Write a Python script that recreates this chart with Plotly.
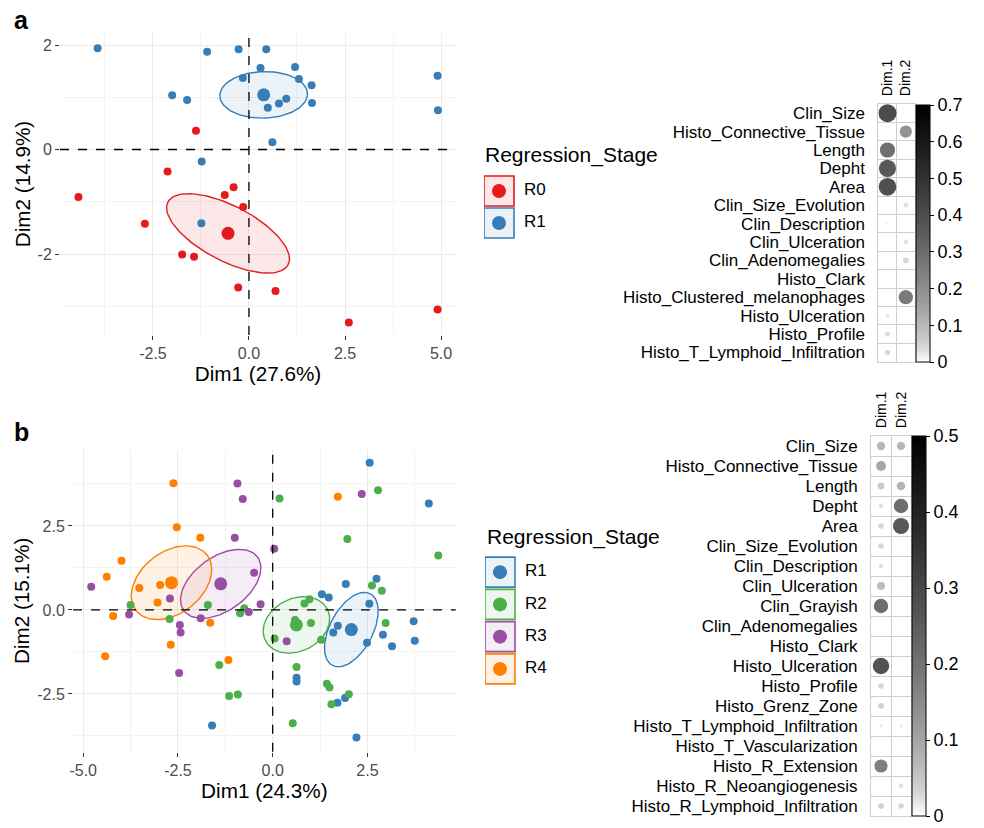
import numpy as np
import plotly.graph_objects as go

W, H = 984, 828
FONT = "Liberation Sans, Arial, sans-serif"

# ---------------- Panel a data ----------------
A_STAGES = ["R0", "R1"]
A_COLORS = ["#E41A1C", "#377EB8"]
A_R0_X = [-1.38, -2.12, -0.40, -0.63, -4.44, -0.15, -2.71, -1.74, -1.43, -0.28, 0.69, 2.60, 4.91]
A_R0_Y = [0.36, -0.42, -0.72, -0.87, -0.91, -1.10, -1.42, -2.01, -2.05, -2.64, -2.71, -3.31, -3.06]
A_R1_X = [-3.94, -1.09, -0.27, 0.45, 0.30, 1.20, -0.16, 1.30, 1.63, 0.97, 0.78, 0.49, 1.64,
          -2.00, -1.61, 4.91, 4.92, 0.61, -1.23, -1.24]
A_R1_Y = [1.94, 1.87, 1.92, 1.92, 1.56, 1.58, 1.37, 1.35, 1.23, 0.97, 0.88, 0.80, 0.89,
          1.04, 0.95, 1.41, 0.75, 0.14, -0.23, -1.41]
A_XTICKS = [-2.5, 0.0, 2.5, 5.0]
A_XTICKTEXT = ["-2.5", "0.0", "2.5", "5.0"]
A_YTICKS = [-2, 0, 2]
A_YTICKTEXT = ["-2", "0", "2"]
A_XTITLE = "Dim1 (27.6%)"
A_YTITLE = "Dim2 (14.9%)"

A_VARS = ["Clin_Size", "Histo_Connective_Tissue", "Length", "Depht", "Area",
          "Clin_Size_Evolution", "Clin_Description", "Clin_Ulceration",
          "Clin_Adenomegalies", "Histo_Clark", "Histo_Clustered_melanophages",
          "Histo_Ulceration", "Histo_Profile", "Histo_T_Lymphoid_Infiltration"]
A_DIM1 = [0.70, 0.0, 0.50, 0.63, 0.68, 0.0, 0.02, 0.01, 0.01, 0.0, 0.0, 0.035, 0.055, 0.065]
A_DIM2 = [0.0, 0.32, 0.01, 0.0, 0.0, 0.05, 0.01, 0.045, 0.07, 0.0, 0.44, 0.0, 0.0, 0.0]
A_CB_TICKS = [0, 0.1, 0.2, 0.3, 0.4, 0.5, 0.6, 0.7]
A_CB_TEXT = ["0", "0.1", "0.2", "0.3", "0.4", "0.5", "0.6", "0.7"]

# ---------------- Panel b data ----------------
B_STAGES = ["R1", "R2", "R3", "R4"]
B_COLORS = ["#377EB8", "#4DAF4A", "#984EA3", "#FF7F00"]
B_R1_X = [2.56, 4.12, 2.74, 1.93, 1.30, 1.48, 2.55, 3.72, 1.72, 1.60, 2.91, 3.75, 3.15, 2.49,
          0.63, 0.63, 1.71, 1.91, -1.60, 2.21]
B_R1_Y = [4.38, 3.17, 0.93, 0.77, 0.47, 0.37, 0.18, -0.34, -0.47, -0.67, -0.74, -0.92, -1.08, -0.98,
          -2.02, -2.13, -2.76, -2.62, -3.44, -3.80]
B_R2_X = [0.18, 2.78, 1.97, 4.37, 2.62, 2.88, 2.98, -3.75, -1.71, -0.75, -0.86, -2.72, 0.84, 0.97,
          0.59, 1.01, 0.05, 1.28, 0.63, -1.41, 1.43, 1.50, -1.15, -0.92, 2.01, 1.55, 0.53]
B_R2_Y = [3.32, 3.56, 2.11, 1.62, 0.73, 0.57, -0.39, 0.15, 0.15, 0.05, -0.10, -0.27, 0.19, 0.32,
          -0.30, -0.39, -0.85, -0.89, -1.70, -1.64, -2.20, -2.31, -2.56, -2.52, -2.51, -2.81, -3.37]
B_R3_X = [-0.93, -0.79, 2.35, -1.00, 0.04, -0.49, -4.79, -2.71, -0.32, -3.79, -0.63, -1.90, -2.45,
          -2.43, 0.37, -2.47]
B_R3_Y = [3.76, 3.30, 3.45, 2.15, 1.82, 1.11, 0.69, 0.34, 0.17, -0.14, -0.06, -0.25, -0.45,
          -0.67, -0.93, -1.88]
B_R4_X = [-2.62, 1.72, -2.53, -1.91, -3.99, -4.38, -3.52, -2.97, -3.04, -4.21, -1.65, -2.69, -4.42, -1.17]
B_R4_Y = [3.77, 3.37, 2.46, 2.15, 1.46, 0.99, 0.65, 0.74, 0.22, -0.18, -0.38, -1.04, -1.38, -1.49]
B_XTICKS = [-5.0, -2.5, 0.0, 2.5]
B_XTICKTEXT = ["-5.0", "-2.5", "0.0", "2.5"]
B_YTICKS = [-2.5, 0.0, 2.5]
B_YTICKTEXT = ["-2.5", "0.0", "2.5"]
B_XTITLE = "Dim1 (24.3%)"
B_YTITLE = "Dim2 (15.1%)"

B_VARS = ["Clin_Size", "Histo_Connective_Tissue", "Length", "Depht", "Area",
          "Clin_Size_Evolution", "Clin_Description", "Clin_Ulceration", "Clin_Grayish",
          "Clin_Adenomegalies", "Histo_Clark", "Histo_Ulceration", "Histo_Profile",
          "Histo_Grenz_Zone", "Histo_T_Lymphoid_Infiltration", "Histo_T_Vascularization",
          "Histo_R_Extension", "Histo_R_Neoangiogenesis", "Histo_R_Lymphoid_Infiltration"]
B_DIM1 = [0.12, 0.17, 0.08, 0.035, 0.05, 0.05, 0.035, 0.11, 0.36, 0.0, 0.004, 0.47, 0.05,
          0.06, 0.02, 0.0, 0.30, 0.0, 0.06]
B_DIM2 = [0.12, 0.006, 0.13, 0.36, 0.45, 0.004, 0.004, 0.004, 0.004, 0.01, 0.0, 0.0, 0.0,
          0.004, 0.02, 0.0, 0.004, 0.035, 0.05]
B_CB_TICKS = [0, 0.1, 0.2, 0.3, 0.4, 0.5]
B_CB_TEXT = ["0", "0.1", "0.2", "0.3", "0.4", "0.5"]

LEGEND_TITLE = "Regression_Stage"
CORR_COLS = ["Dim.1", "Dim.2"]


def px_x(p):
    return p / W


def px_y(p):
    return 1 - p / H


def rgba(hexc, a):
    h = hexc.lstrip("#")
    r, g, b = int(h[0:2], 16), int(h[2:4], 16), int(h[4:6], 16)
    return f"rgba({r},{g},{b},{a})"


def conf_ellipse(x, y, level_chi2=5.991464547, npts=120):
    x = np.asarray(x, float)
    y = np.asarray(y, float)
    c = np.array([x.mean(), y.mean()])
    cov = np.cov(np.vstack([x, y])) / len(x)
    vals, vecs = np.linalg.eigh(cov)
    t = np.linspace(0, 2 * np.pi, npts)
    circ = np.vstack([np.cos(t), np.sin(t)])
    pts = c[:, None] + np.sqrt(level_chi2) * (vecs @ (np.sqrt(vals)[:, None] * circ))
    return pts[0], pts[1], c


# gray ramp (white -> black)
GAMMA = 0.65
GRAY_SCALE = []
for t in np.linspace(0, 1, 21):
    g = int(round(255 * (1 - t ** GAMMA)))
    GRAY_SCALE.append([float(t), f"rgb({g},{g},{g})"])

fig = go.Figure()


def add_scatter_panel(groups, colors, xa, ya):
    cents = []
    for (gx, gy), col in zip(groups, colors):
        ex, ey, c = conf_ellipse(gx, gy)
        cents.append(c)
        fig.add_trace(go.Scatter(x=ex, y=ey, mode="lines", fill="toself",
                                 fillcolor=rgba(col, 0.1), line=dict(color=col, width=1.4),
                                 xaxis=xa, yaxis=ya, hoverinfo="skip", showlegend=False))
    for (gx, gy), col in zip(groups, colors):
        fig.add_trace(go.Scatter(x=gx, y=gy, mode="markers",
                                 marker=dict(color=col, size=8, line=dict(width=0)),
                                 xaxis=xa, yaxis=ya, showlegend=False))
    for c, col in zip(cents, colors):
        fig.add_trace(go.Scatter(x=[c[0]], y=[c[1]], mode="markers",
                                 marker=dict(color=col, size=13, line=dict(width=0)),
                                 xaxis=xa, yaxis=ya, showlegend=False))


add_scatter_panel([(A_R0_X, A_R0_Y), (A_R1_X, A_R1_Y)], A_COLORS, "x", "y")
add_scatter_panel([(B_R1_X, B_R1_Y), (B_R2_X, B_R2_Y), (B_R3_X, B_R3_Y), (B_R4_X, B_R4_Y)],
                  B_COLORS, "x3", "y3")


def add_corr_panel(vars_, d1, d2, vmax, maxd, xa, ya, cb):
    n = len(vars_)
    idx = list(range(n))
    vals = list(d1) + list(d2)
    fig.add_trace(go.Scatter(
        x=[0] * n + [1] * n, y=idx + idx, mode="markers",
        marker=dict(size=vals, sizemode="area", sizeref=2.0 * vmax / (maxd ** 2), sizemin=0,
                    color=vals, cmin=0, cmax=vmax, colorscale=GRAY_SCALE,
                    line=dict(width=0), colorbar=cb),
        xaxis=xa, yaxis=ya, showlegend=False, hoverinfo="skip"))


cb_common = dict(thickness=14, thicknessmode="pixels", lenmode="pixels", xanchor="left",
                 yanchor="middle", xpad=0, ypad=0, outlinewidth=1, outlinecolor="black",
                 ticks="outside", ticklen=4, tickcolor="black",
                 tickfont=dict(family=FONT, size=18, color="black"), tickmode="array")

add_corr_panel(A_VARS, A_DIM1, A_DIM2, 0.7, 18, "x2", "y2",
               dict(cb_common, x=px_x(916), y=px_y((105 + 362) / 2), len=257,
                    tickvals=A_CB_TICKS, ticktext=A_CB_TEXT))
add_corr_panel(B_VARS, B_DIM1, B_DIM2, 0.5, 17, "x4", "y4",
               dict(cb_common, x=px_x(911.5), y=px_y((436 + 816) / 2), len=380,
                    tickvals=B_CB_TICKS, ticktext=B_CB_TEXT))


# ---------------- Legends (drawn on hidden axes) ----------------
def add_legend(stages, colors, xa, ya):
    n = len(stages)
    yy = list(range(n))
    fig.add_trace(go.Scatter(x=[15] * n, y=yy, mode="markers",
                             marker=dict(symbol="square", size=30,
                                         color=[rgba(c, 0.1) for c in colors],
                                         line=dict(color=colors, width=1.6)),
                             xaxis=xa, yaxis=ya, showlegend=False, hoverinfo="skip"))
    fig.add_trace(go.Scatter(x=[15] * n, y=yy, mode="markers",
                             marker=dict(size=14, color=colors, line=dict(width=0)),
                             xaxis=xa, yaxis=ya, showlegend=False, hoverinfo="skip"))
    fig.add_trace(go.Scatter(x=[40] * n, y=yy, mode="text", text=stages,
                             textposition="middle right",
                             textfont=dict(family=FONT, size=17, color="black"),
                             xaxis=xa, yaxis=ya, showlegend=False, hoverinfo="skip"))


add_legend(A_STAGES, A_COLORS, "x5", "y5")
add_legend(B_STAGES, B_COLORS, "x6", "y6")

# ---------------- Axes ----------------
GRID = "#EBEBEB"
MINOR = "#F3F3F3"
TICKFONT = dict(family=FONT, size=16, color="#4D4D4D")
TITLEFONT = dict(family=FONT, size=20.7, color="black")


def scatter_axes(xdom, ydom, xr, yr, xt, xtt, yt, ytt, xminor, yminor, xtitle, ytitle):
    xa = dict(domain=xdom, range=xr, tickmode="array", tickvals=xt, ticktext=xtt,
              showgrid=True, gridcolor=GRID, gridwidth=1.1, zeroline=False, showline=False,
              ticks="outside", ticklen=4, tickwidth=1.1, tickcolor="#333333",
              tickfont=TICKFONT, fixedrange=True, automargin=False,
              minor=dict(tickmode="array", tickvals=xminor, showgrid=True, gridcolor=MINOR,
                         gridwidth=0.8, ticks=""),
              title=dict(text=xtitle, font=TITLEFONT, standoff=5))
    ya = dict(domain=ydom, range=yr, tickmode="array", tickvals=yt, ticktext=ytt,
              showgrid=True, gridcolor=GRID, gridwidth=1.1, zeroline=False, showline=False,
              ticks="outside", ticklen=4, tickwidth=1.1, tickcolor="#333333",
              tickfont=TICKFONT, fixedrange=True, automargin=False,
              minor=dict(tickmode="array", tickvals=yminor, showgrid=True, gridcolor=MINOR,
                         gridwidth=0.8, ticks=""),
              title=dict(text=ytitle, font=TITLEFONT, standoff=1))
    return xa, ya


xa1, ya1 = scatter_axes([px_x(60), px_x(456)], [px_y(335), px_y(33)], [-4.92, 5.39], [-3.55, 2.23],
                        A_XTICKS, A_XTICKTEXT, A_YTICKS, A_YTICKTEXT,
                        [-3.75, -1.25, 1.25, 3.75], [-3, -1, 1], A_XTITLE, A_YTITLE)
xa3, ya3 = scatter_axes([px_x(73), px_x(455.7)], [px_y(751.7), px_y(450)], [-5.27, 4.83], [-4.22, 4.76],
                        B_XTICKS, B_XTICKTEXT, B_YTICKS, B_YTICKTEXT,
                        [-3.75, -1.25, 1.25, 3.75], [-3.75, -1.25, 1.25, 3.75], B_XTITLE, B_YTITLE)
xa1["anchor"] = "y"
ya1["anchor"] = "x"
xa3["anchor"] = "y3"
ya3["anchor"] = "x3"

CELL = "#CFCFCF"


def corr_axes(xdom, ydom, vars_, anchor_x, anchor_y):
    n = len(vars_)
    xa = dict(domain=xdom, range=[-0.5, 1.5], anchor=anchor_y, side="top",
              tickmode="array", tickvals=[0, 1], ticktext=CORR_COLS, tickangle=-90,
              tickfont=dict(family=FONT, size=14, color="black"), ticks="",
              ticklabelstandoff=4, automargin=False,
              showgrid=False, zeroline=False, showline=True, mirror=True, linecolor=CELL,
              linewidth=1, fixedrange=True,
              minor=dict(tickmode="array", tickvals=[-0.5, 0.5, 1.5], showgrid=True,
                         gridcolor=CELL, gridwidth=1, ticks=""))
    ya = dict(domain=ydom, range=[n - 0.5, -0.5], anchor=anchor_x,
              tickmode="array", tickvals=list(range(n)), ticktext=vars_,
              tickfont=dict(family=FONT, size=17, color="black"), ticks="",
              ticklabelstandoff=9, automargin=False,
              showgrid=False, zeroline=False, showline=True, mirror=True, linecolor=CELL,
              linewidth=1, fixedrange=True,
              minor=dict(tickmode="array", tickvals=[i - 0.5 for i in range(n + 1)],
                         showgrid=True, gridcolor=CELL, gridwidth=1, ticks=""))
    return xa, ya


xa2, ya2 = corr_axes([px_x(878.3), px_x(915)], [px_y(361.6), px_y(104)], A_VARS, "x2", "y2")
xa4, ya4 = corr_axes([px_x(871), px_x(911)], [px_y(816), px_y(436)], B_VARS, "x4", "y4")


def hidden_axes(xdom, ydom, n, anchor_x, anchor_y):
    xa = dict(domain=xdom, range=[0, (xdom[1] - xdom[0]) * W], visible=False, fixedrange=True,
              anchor=anchor_y)
    ya = dict(domain=ydom, range=[n - 0.5, -0.5], visible=False, fixedrange=True,
              anchor=anchor_x)
    return xa, ya


xa5, ya5 = hidden_axes([px_x(484), px_x(640)], [px_y(239), px_y(175)], len(A_STAGES), "x5", "y5")
xa6, ya6 = hidden_axes([px_x(485), px_x(641)], [px_y(685), px_y(556)], len(B_STAGES), "x6", "y6")

shapes = []
for xr, yr in [("x", "y domain"), ("x3", "y3 domain")]:
    shapes.append(dict(type="line", xref=xr, yref=yr, x0=0, x1=0, y0=0, y1=1,
                       line=dict(color="black", width=1.3, dash="dash"), layer="above"))
for xr, yr in [("x domain", "y"), ("x3 domain", "y3")]:
    shapes.append(dict(type="line", xref=xr, yref=yr, x0=0, x1=1, y0=0, y1=0,
                       line=dict(color="black", width=1.3, dash="dash"), layer="above"))

annotations = [
    dict(text="<b>a</b>", x=px_x(12), y=px_y(20), xref="paper", yref="paper",
         xanchor="left", yanchor="middle", showarrow=False,
         font=dict(family=FONT, size=25, color="black")),
    dict(text="<b>b</b>", x=px_x(12), y=px_y(432), xref="paper", yref="paper",
         xanchor="left", yanchor="middle", showarrow=False,
         font=dict(family=FONT, size=25, color="black")),
    dict(text=LEGEND_TITLE, x=px_x(483), y=px_y(155), xref="paper", yref="paper",
         xanchor="left", yanchor="middle", showarrow=False, font=dict(TITLEFONT, size=21)),
    dict(text=LEGEND_TITLE, x=px_x(485), y=px_y(537), xref="paper", yref="paper",
         xanchor="left", yanchor="middle", showarrow=False, font=dict(TITLEFONT, size=21)),
]

fig.update_layout(
    width=W, height=H, margin=dict(l=0, r=0, t=0, b=0, autoexpand=False),
    paper_bgcolor="white", plot_bgcolor="white",
    font=dict(family=FONT),
    showlegend=False,
    xaxis=xa1, yaxis=ya1, xaxis2=xa2, yaxis2=ya2, xaxis3=xa3, yaxis3=ya3,
    xaxis4=xa4, yaxis4=ya4, xaxis5=xa5, yaxis5=ya5, xaxis6=xa6, yaxis6=ya6,
    shapes=shapes, annotations=annotations,
)

fig.write_html("out.html", config={"displayModeBar": False},
               post_script="document.body.style.margin='0';document.body.style.padding='0';"
                           "document.body.style.overflow='hidden';")
